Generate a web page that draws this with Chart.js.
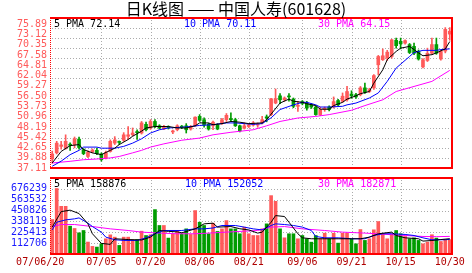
<!DOCTYPE html>
<html><head><meta charset="utf-8">
<script src="https://cdn.jsdelivr.net/npm/chart.js@4.4.0/dist/chart.umd.min.js"></script>
<style>
html,body{margin:0;padding:0;background:#fff;}
#wrap{position:relative;width:472px;height:273px;overflow:hidden;background:#fff;}
canvas{position:absolute;left:0;top:0;}
.t{position:absolute;font-family:"DejaVu Sans Mono",monospace;font-size:10px;line-height:10px;white-space:pre;}
#title{position:absolute;left:0;width:472px;top:0;text-align:center;font-family:"Noto Sans CJK SC",sans-serif;font-size:16px;line-height:17px;color:#000;}
</style></head>
<body><div id="wrap">
<canvas id="price" width="472" height="273"></canvas>
<canvas id="vol" width="472" height="273"></canvas>
<div id="title">日K线图 —— 中国人寿(601628)</div>
<div class="t" style="left:54px;top:19px;color:#000">5 PMA 72.14</div>
<div class="t" style="left:184px;top:19px;color:#0000ff">10 PMA 70.11</div>
<div class="t" style="left:318px;top:19px;color:#ff00ff">30 PMA 64.15</div>
<div class="t" style="left:54px;top:179px;color:#000">5 PMA 158876</div>
<div class="t" style="left:185px;top:179px;color:#0000ff">10 PMA 152052</div>
<div class="t" style="left:318px;top:179px;color:#ff00ff">30 PMA 182871</div>
</div>
<script>
const dates = ['06/20','06/21','06/22','06/25','06/26','06/27','06/28','06/29',
'07/02','07/03','07/04','07/05','07/06','07/09','07/10','07/11','07/12','07/13','07/16','07/17','07/18','07/19','07/20','07/23','07/24','07/25','07/26','07/27','07/30','07/31',
'08/01','08/02','08/03','08/06','08/07','08/08','08/09','08/10','08/13','08/14','08/15','08/16','08/17','08/20','08/21','08/22','08/23','08/24','08/27','08/28','08/29','08/30','08/31',
'09/03','09/04','09/05','09/06','09/07','09/10','09/11','09/12','09/13','09/14','09/17','09/18','09/19','09/20','09/21','09/24','09/25','09/26','09/27','09/28',
'10/08','10/09','10/10','10/11','10/12','10/15','10/16','10/17','10/18','10/19','10/22','10/23','10/24','10/25','10/26','10/29','10/30'];

const open = [39.6,41.3,43.1,42.6,43.7,43.6,45.1,42.2,40.3,41.6, 42.0,41.0,39.8,41.7,44.0,44.4,44.8,45.9,46.3,47.2, 46.8,49.2,48.2,50.0,48.8,47.9,48.5,47.1,47.7,48.7, 48.8,47.9,48.8,51.4,50.5,49.2,48.8,49.1,49.6,50.5, 50.8,50.5,48.8,48.1,48.6,49.0,49.0,49.6,51.2,51.9, 55.1,57.1,56.0,57.0,56.2,54.2,55.5,55.1,54.6,54.0, 51.9,53.3,54.0,54.0,55.8,55.6,56.0,57.6,57.4,57.4, 59.3,58.3,59.3,65.7,67.1,67.6,68.0,72.5,72.2,71.7, 71.3,70.8,69.4,65.1,66.9,68.9,71.3,67.3,69.5,74.2];
const high = [41.8,44.5,44.5,46.3,44.1,45.7,45.7,42.5,41.9,42.4, 42.6,41.3,41.8,44.9,45.8,44.6,46.9,48.6,48.2,47.7, 50.0,49.8,50.5,50.5,49.1,48.9,48.8,47.6,49.1,48.9, 49.4,48.9,51.3,51.9,51.0,49.5,50.1,49.4,50.9,52.2, 52.4,50.9,49.0,49.6,49.4,50.0,49.6,51.4,51.8,56.4, 59.0,57.7,56.8,57.7,56.5,55.6,55.8,55.6,55.0,54.3, 54.0,54.0,54.3,56.8,56.1,57.9,59.7,58.5,57.8,59.7, 60.6,59.2,63.0,68.3,70.1,69.7,72.8,73.1,73.1,72.6, 71.6,71.7,69.8,67.4,70.3,73.1,73.1,69.8,76.0,76.0];
const low = [38.4,41.0,42.3,42.3,42.0,42.7,42.3,40.8,40.0,41.3, 40.8,39.0,39.6,41.5,43.6,43.6,44.5,45.0,46.0,45.0, 46.5,47.4,47.8,48.3,47.9,47.7,47.9,46.6,47.4,48.0, 46.8,47.6,48.6,50.0,48.4,47.6,47.7,47.7,49.2,50.0, 50.0,48.6,47.1,47.9,48.3,48.7,48.4,49.3,49.9,51.6, 54.9,54.9,55.6,55.6,53.8,52.8,54.6,53.1,53.6,51.7, 51.6,52.8,52.9,53.7,54.3,55.3,55.6,56.4,56.4,57.1, 57.8,58.0,58.9,62.9,66.9,66.9,67.5,70.3,70.1,71.4, 68.8,68.5,67.0,64.8,66.6,68.6,68.6,67.0,69.0,72.5];
const close = [41.0,44.0,43.5,44.5,43.4,45.2,42.8,41.1,41.5,42.1, 41.1,39.4,41.4,44.5,44.9,44.2,46.3,46.3,46.8,46.9, 49.6,47.7,50.0,48.6,48.2,48.5,48.3,47.3,48.8,48.4, 47.7,48.6,51.2,50.3,49.0,47.9,49.8,47.9,50.5,51.7, 50.5,48.8,47.4,48.8,49.1,49.6,49.2,50.5,51.0,56.3, 56.3,56.0,56.5,56.8,54.2,54.4,55.0,53.7,54.0,51.9, 53.3,53.7,53.3,55.5,54.6,57.0,58.3,57.1,56.8,59.3, 58.1,58.8,62.7,68.0,68.2,69.2,72.6,71.0,71.5,72.4, 69.1,68.9,67.3,67.1,68.9,71.3,68.9,69.4,75.5,75.0];
const volume = [358000,680000,495000,495000,289000,265000,220000,244000,124000,79000,
72000,106000,158000,199000,175000,89000,175000,175000,148000,150000,
237000,192000,200000,461000,296000,296000,165000,210000,245000,210000,
261000,203000,451000,330000,296000,210000,320000,234000,261000,347000,
261000,261000,210000,279000,210000,192000,192000,261000,313000,606000,
547000,261000,168000,210000,210000,158000,192000,158000,123000,192000,
158000,216000,158000,216000,113000,216000,216000,158000,106000,254000,
141000,158000,251000,337000,210000,158000,210000,244000,210000,182000,
158000,168000,141000,106000,123000,200000,165000,130000,150000,150000];

// moving averages: [day index, value]
const ma5Price = [[0,38.5],[2,41.7],[4,43.3],[6,43.6],[7,42.2],[9,41.3],[11,40.8],[13,42.0],[14,42.6],[15,43.6],[17,45.0],[18,45.9],[20,47.3],[21,48.2],[23,48.6],[26,48.6],[28,48.2],[30,48.2],[32,48.8],[33,49.6],[35,49.6],[36,49.1],[38,49.4],[40,50.0],[42,49.8],[44,49.4],[47,49.6],[48,50.5],[51,55.1],[53,56.2],[54,55.6],[56,55.3],[57,54.9],[59,54.4],[60,53.4],[62,53.4],[63,54.4],[65,55.3],[66,56.2],[68,57.1],[69,57.7],[71,58.3],[72,60.6],[74,64.3],[75,67.1],[77,69.4],[78,70.3],[80,70.8],[81,69.9],[82,69.0],[83,68.2],[85,68.5],[86,69.0],[88,70.1],[89,72.14]];
const ma10Price = [[0,37.6],[2,39.0],[4,40.8],[6,42.0],[7,42.9],[10,42.9],[11,42.6],[14,42.6],[16,43.1],[18,44.0],[20,45.2],[22,46.8],[24,47.7],[26,48.2],[29,48.4],[31,48.6],[33,48.9],[36,49.1],[39,49.6],[41,49.6],[43,49.4],[45,49.2],[47,49.4],[49,51.0],[51,53.3],[54,54.6],[56,55.3],[57,55.3],[59,54.6],[60,54.0],[62,54.0],[65,54.2],[66,54.6],[68,55.1],[71,56.5],[73,57.9],[75,61.1],[77,64.8],[80,68.0],[81,69.1],[83,69.7],[86,69.7],[87,69.9],[89,70.11]];
const ma30Price = [[0,38.5],[4,38.96],[7,39.4],[10,39.6],[13,39.9],[15,40.3],[18,41.3],[20,42.0],[22,42.9],[25,43.8],[29,44.8],[33,45.4],[36,46.3],[40,47.0],[45,47.7],[48,48.8],[51,50.0],[55,50.96],[59,51.4],[62,51.9],[67,53.1],[70,54.4],[74,56.0],[77,58.3],[81,59.7],[85,61.1],[89,64.15]];
const ma5Vol = [[0,279000],[2,440000],[4,455000],[6,420000],[8,313000],[9,210000],[11,110000],[13,100000],[14,158000],[17,150000],[20,145000],[22,175000],[24,244000],[26,235000],[28,230000],[29,220000],[32,261000],[34,313000],[36,320000],[37,279000],[40,285000],[42,262000],[44,250000],[46,217000],[47,227000],[49,330000],[50,399000],[52,389000],[53,330000],[55,210000],[56,168000],[58,158000],[61,158000],[64,158000],[67,158000],[69,158000],[71,175000],[73,210000],[76,227000],[77,192000],[79,168000],[82,158000],[83,134000],[85,140000],[87,150000],[89,158876]];
const ma10Vol = [[0,250000],[1,330000],[3,354000],[5,365000],[6,375000],[8,320000],[9,285000],[11,227000],[12,175000],[14,148000],[16,141000],[19,141000],[21,168000],[23,210000],[25,244000],[29,244000],[32,261000],[34,261000],[36,270000],[38,296000],[41,296000],[43,279000],[45,261000],[47,250000],[49,296000],[50,313000],[52,306000],[54,296000],[56,279000],[58,244000],[59,182000],[61,168000],[64,168000],[67,158000],[70,158000],[72,192000],[74,210000],[76,210000],[79,203000],[81,192000],[83,168000],[85,148000],[88,148000],[89,152052]];
const ma30Vol = [[0,285000],[2,306000],[5,306000],[9,285000],[13,261000],[17,244000],[20,227000],[24,217000],[28,210000],[32,210000],[35,217000],[39,227000],[43,237000],[46,244000],[49,279000],[52,285000],[56,261000],[61,244000],[65,227000],[70,217000],[74,206000],[79,192000],[83,182000],[86,180000],[89,182871]];

const priceTicks = [37.11,39.88,42.65,45.42,48.19,50.96,53.73,56.50,59.27,62.04,64.81,67.58,70.35,73.12,75.89];
const priceMax = 78.66;
const volTicks = [112706,225413,338119,450826,563532,676239];
const volMax = 788945;
const tickIdx = [0,11,22,33,44,56,67,78,89];
const tickLabels = ['07/06/20','07/05','07/20','08/06','08/21','09/06','09/21','10/15','10/30'];

const RED = '#ff5a5a', GREEN = '#009c00', DOT = '#ababab';
const MONO = 'DejaVu Sans Mono';
const candleColors = close.map((c,i)=> c >= open[i] ? RED : GREEN);
function series(pairs){ const a = new Array(dates.length).fill(null); pairs.forEach(p=>{a[p[0]] = p[1];}); return a; }
function maLine(pairs, color){ return {type:'line', data:series(pairs), borderColor:color, borderWidth:1, pointRadius:0, spanGaps:true, tension:0, order:0}; }

// dotted grid drawn through the chart's own scales
function makeDotGrid(yValues){ return { id:'dotGrid', beforeDatasetsDraw(chart){
  const {ctx, chartArea:a, scales} = chart; ctx.save(); ctx.fillStyle = DOT;
  yValues.forEach(v=>{ const y = Math.round(scales.y.getPixelForValue(v)); if (y <= a.top+1 || y >= a.bottom-1) return;
    for (let x = Math.round(a.left)+2; x < a.right-1; x += 3) ctx.fillRect(x, y, 1, 1); });
  tickIdx.slice(1, -1).forEach(i=>{ const x = Math.round(scales.x.getPixelForValue(i)); for (let y = Math.round(a.top)+2; y < a.bottom-1; y += 3) ctx.fillRect(x, y, 1, 1); });
  ctx.restore(); } }; }

const frame = { id:'frame', afterDraw(chart){
  const {ctx, chartArea:a} = chart; ctx.save();
  ctx.strokeStyle = '#ff0000'; ctx.lineWidth = 2;
  ctx.beginPath(); ctx.moveTo(a.left, a.top); ctx.lineTo(a.right, a.top); ctx.lineTo(a.right, a.bottom); ctx.lineTo(a.left, a.bottom); ctx.stroke();
  ctx.lineWidth = 1; ctx.setLineDash([1,1]);
  ctx.beginPath(); ctx.moveTo(a.left+0.5, a.top); ctx.lineTo(a.left+0.5, a.bottom); ctx.stroke();
  ctx.restore(); } };

function xScale(showLabels){
  return { offset:true, grid:{display:false, drawTicks:false, offset:false}, border:{display:false},
    afterBuildTicks:s=>{ s.ticks = tickIdx.map(v=>({value:v})); },
    afterFit:s=>{ s.height = showLabels ? 19 : 0; },
    ticks:{ display:showLabels, autoSkip:false, maxRotation:0, padding:2, color:'#b00000', font:{family:MONO, size:10},
      callback:(v,i)=> i === 0 ? tickLabels[i] + '    ' : tickLabels[i] } };
}
const common = { responsive:false, animation:false, events:[] };

new Chart(document.getElementById('price'), {
  type:'bar',
  data:{ labels:dates, datasets:[
    maLine(ma5Price,'#000000'), maLine(ma10Price,'#0000ff'), maLine(ma30Price,'#ff00ff'),
    {data:open.map((o,i)=>[o, close[i]]), backgroundColor:candleColors, barThickness:3, grouped:false, minBarLength:1, order:1},
    {data:low.map((l,i)=>[l, high[i]]), backgroundColor:candleColors, barThickness:1, grouped:false, order:2}
  ]},
  options:Object.assign({}, common, {
    plugins:{legend:{display:false}, tooltip:{enabled:false}},
    layout:{padding:{top:18, right:20, bottom:105, left:0}},
    scales:{
      x:xScale(false),
      y:{ display:false, min:priceTicks[0], max:priceMax },
      yLab:{ type:'linear', axis:'y', position:'left', min:priceTicks[0], max:77.56, grid:{display:false, drawTicks:false}, border:{display:false},
        afterBuildTicks:s=>{ s.ticks = priceTicks.map(v=>({value:v})); },
        afterFit:s=>{ s.width = 50; },
        ticks:{ color:'#ff5a5a', padding:3, autoSkip:false, font:{family:MONO, size:10}, callback:v=>v.toFixed(2) } }
    }
  }),
  plugins:[makeDotGrid(priceTicks), frame]
});

new Chart(document.getElementById('vol'), {
  type:'bar',
  data:{ labels:dates, datasets:[
    maLine(ma5Vol,'#000000'), maLine(ma10Vol,'#0000ff'), maLine(ma30Vol,'#ff00ff'),
    {data:volume, backgroundColor:candleColors, barThickness:3, grouped:false, order:1}
  ]},
  options:Object.assign({}, common, {
    plugins:{legend:{display:false}, tooltip:{enabled:false}},
    layout:{padding:{top:178, right:20, bottom:0, left:0}},
    scales:{
      x:xScale(true),
      y:{ min:0, max:volMax, grid:{display:false, drawTicks:false}, border:{display:false},
        afterBuildTicks:s=>{ s.ticks = volTicks.map(v=>({value:v})); },
        afterFit:s=>{ s.width = 50; },
        ticks:{ color:'#1a1aff', padding:3, autoSkip:false, font:{family:MONO, size:10}, callback:v=>String(v) } }
    }
  }),
  plugins:[makeDotGrid(volTicks), frame]
});
</script>
</body></html>
